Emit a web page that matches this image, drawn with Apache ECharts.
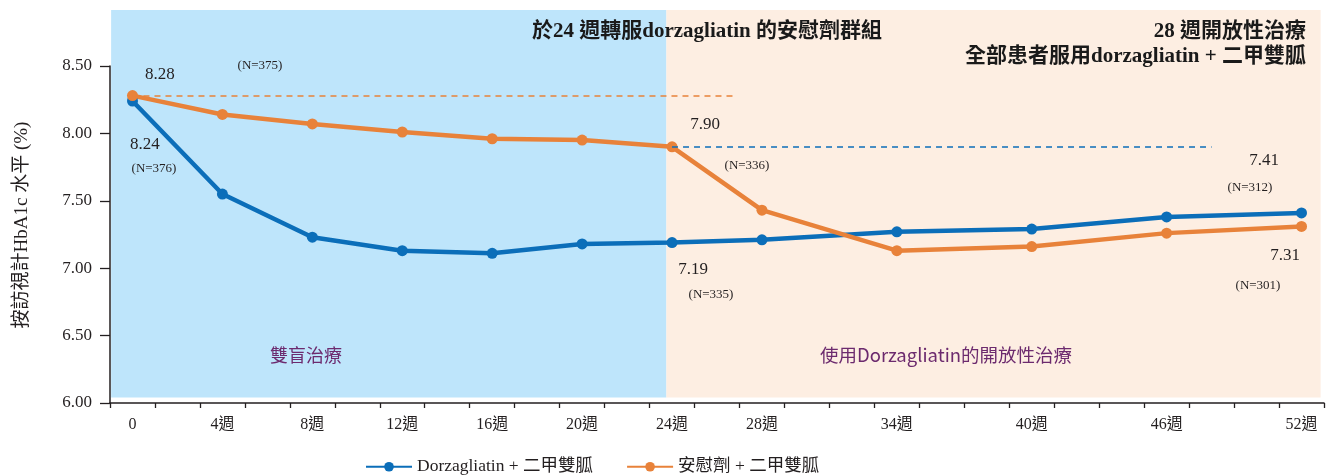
<!DOCTYPE html>
<html>
<head>
<meta charset="utf-8">
<script src="https://cdn.jsdelivr.net/npm/echarts@6/dist/echarts.min.js"></script>
<style>
html,body{margin:0;padding:0;background:#fff;}
#chart{width:1333px;height:476px;}
</style>
</head>
<body>
<div id="chart"></div>
<script>
// ---- data ----
const weeks = [0, 4, 8, 12, 16, 20, 24, 28, 34, 40, 46, 52];
const dorzValues = [8.24, 7.55, 7.23, 7.13, 7.11, 7.18, 7.19, 7.21, 7.27, 7.29, 7.38, 7.41];
const placeboValues = [8.28, 8.14, 8.07, 8.01, 7.96, 7.95, 7.90, 7.43, 7.13, 7.16, 7.26, 7.31];
const xLabelValues = [0, 4, 8, 12, 16, 20, 24, 28, 34, 40, 46, 52];
const yTickValues = [6.0, 6.5, 7.0, 7.5, 8.0, 8.5];
const seriesNames = ['Dorzagliatin + 二甲雙胍', '安慰劑 + 二甲雙胍'];
const nLabels = ['(N=375)', '(N=376)', '(N=336)', '(N=335)', '(N=312)', '(N=301)'];
const phaseLabels = ['雙盲治療', '使用Dorzagliatin的開放性治療'];
const titleLeft = '於24 週轉服dorzagliatin 的安慰劑群組';
const titleRight1 = '28 週開放性治療';
const titleRight2 = '全部患者服用dorzagliatin + 二甲雙胍';
const yName = '按訪視計HbA1c 水平 (%)';
// reference levels (dashed lines)
const placeboBaseline = 8.28;
const placeboWeek24 = 7.90;

// ---- styling ----
const BLUE = '#0B6EB9';
const ORANGE = '#E8823A';
const INK = '#231F20';
const SERIF = "'Liberation Serif', 'Noto Sans CJK TC', serif";
const SANS = "'Noto Sans CJK TC', 'Noto Sans', sans-serif";
const PURPLE = '#6C2A6E';

const dorzLabelOffsets = {0: [12.5, 43.7], 6: [21, 27.4], 11: [-37.5, -52]};
const placeboLabelOffsets = {0: [27.5, -20.7], 6: [33, -22], 11: [-16.5, 29.6]};

function buildData(vals, offsets) {
  return weeks.map((w, i) => {
    const item = {value: [w, vals[i]]};
    if (offsets[i]) {
      item.label = {
        show: true, position: 'inside', offset: offsets[i],
        formatter: p => p.value[1].toFixed(2),
        color: INK, fontFamily: SERIF, fontSize: 17
      };
    }
    return item;
  });
}

const chart = echarts.init(document.getElementById('chart'), null, {renderer: 'canvas'});

const lineCommon = {
  type: 'line',
  xAxisIndex: 0, yAxisIndex: 0,
  symbol: 'circle', symbolSize: 11,
  lineStyle: {width: 4.5},
  label: {show: false},
  emphasis: {disabled: true},
  animation: false
};

const option = {
  backgroundColor: '#ffffff',
  animation: false,
  grid: [
    {left: 110, right: 9, top: 10, bottom: 73},
    {left: 110, right: 9, top: 66, bottom: 73}
  ],
  xAxis: [
    {
      type: 'value', gridIndex: 0, min: -1, max: 53, interval: 2,
      axisLine: {show: true, onZero: false, lineStyle: {color: INK, width: 1.5}},
      axisTick: {show: true, length: 5, lineStyle: {color: INK, width: 1.3}},
      axisLabel: {
        customValues: xLabelValues, margin: 14,
        formatter: v => (v === 0 ? '0' : v + '週'),
        color: INK, fontFamily: SERIF, fontSize: 16
      },
      splitLine: {show: false}
    },
    {type: 'value', gridIndex: 1, min: -1, max: 53, show: false}
  ],
  yAxis: [
    {type: 'value', gridIndex: 0, min: 6, max: 8.915, show: false},
    {
      type: 'value', gridIndex: 1, min: 6, max: 8.5, interval: 0.5, z: 5,
      axisLine: {show: true, onZero: false, lineStyle: {color: INK, width: 1.5}},
      axisTick: {show: true, length: 10, lineStyle: {color: INK, width: 1.3}, customValues: yTickValues},
      axisLabel: {
        customValues: yTickValues, margin: 18,
        formatter: v => v.toFixed(2),
        color: INK, fontFamily: SERIF, fontSize: 17
      },
      splitLine: {show: false}
    }
  ],
  legend: {
    left: 365, top: 458, padding: 0,
    itemWidth: 46, itemHeight: 12, itemGap: 33,
    textStyle: {color: INK, fontFamily: SERIF, fontSize: 17.5},
    data: seriesNames
  },
  series: [
    {
      type: 'line', xAxisIndex: 0, yAxisIndex: 0, data: [], silent: true,
      markArea: {
        silent: true,
        label: {show: false},
        data: [
          [{coord: [-0.95, 6.04], itemStyle: {color: '#BEE5FB'}}, {coord: [23.75, 8.915]}],
          [{coord: [23.75, 6.04], itemStyle: {color: '#FDEEE2'}}, {coord: [52.85, 8.915]}]
        ]
      }
    },
    Object.assign({}, lineCommon, {
      name: seriesNames[0],
      color: BLUE,
      itemStyle: {color: BLUE},
      data: buildData(dorzValues, dorzLabelOffsets),
      markLine: {
        silent: true, symbol: 'none', label: {show: false},
        lineStyle: {color: BLUE, type: [6, 5], width: 1.5},
        data: [[{coord: [24, placeboWeek24]}, {coord: [48, placeboWeek24]}]]
      }
    }),
    Object.assign({}, lineCommon, {
      name: seriesNames[1],
      color: ORANGE,
      itemStyle: {color: ORANGE},
      data: buildData(placeboValues, placeboLabelOffsets),
      markLine: {
        silent: true, symbol: 'none', label: {show: false},
        lineStyle: {color: ORANGE, type: [6, 5], width: 1.5},
        data: [[{coord: [0, placeboBaseline]}, {coord: [26.85, placeboBaseline]}]]
      }
    })
  ],
  graphic: [
    {type: 'text', x: 22, y: 225, rotation: Math.PI / 2, silent: true,
     style: {text: yName, font: '19px ' + SERIF, fill: INK, textAlign: 'center', textVerticalAlign: 'middle'}},
    {type: 'text', x: 882, y: 32, silent: true, z: 10,
     style: {text: titleLeft, font: 'bold 21px ' + SERIF, fill: '#1a1a1a', textAlign: 'right', textVerticalAlign: 'middle'}},
    {type: 'text', x: 1306, y: 32, silent: true, z: 10,
     style: {text: titleRight1, font: 'bold 21px ' + SERIF, fill: '#1a1a1a', textAlign: 'right', textVerticalAlign: 'middle'}},
    {type: 'text', x: 1306, y: 57, silent: true, z: 10,
     style: {text: titleRight2, font: 'bold 21px ' + SERIF, fill: '#1a1a1a', textAlign: 'right', textVerticalAlign: 'middle'}},
    {type: 'text', x: 306, y: 355, silent: true, z: 10,
     style: {text: phaseLabels[0], font: '18px ' + SANS, fill: PURPLE, textAlign: 'center', textVerticalAlign: 'middle'}},
    {type: 'text', x: 946, y: 355, silent: true, z: 10,
     style: {text: phaseLabels[1], font: '18.5px ' + SANS, fill: PURPLE, textAlign: 'center', textVerticalAlign: 'middle'}},
    {type: 'text', x: 260, y: 66, silent: true, z: 10,
     style: {text: nLabels[0], font: '13px ' + SERIF, fill: INK, textAlign: 'center', textVerticalAlign: 'middle'}},
    {type: 'text', x: 154, y: 169, silent: true, z: 10,
     style: {text: nLabels[1], font: '13px ' + SERIF, fill: INK, textAlign: 'center', textVerticalAlign: 'middle'}},
    {type: 'text', x: 747, y: 166, silent: true, z: 10,
     style: {text: nLabels[2], font: '13px ' + SERIF, fill: INK, textAlign: 'center', textVerticalAlign: 'middle'}},
    {type: 'text', x: 711, y: 295, silent: true, z: 10,
     style: {text: nLabels[3], font: '13px ' + SERIF, fill: INK, textAlign: 'center', textVerticalAlign: 'middle'}},
    {type: 'text', x: 1250, y: 188, silent: true, z: 10,
     style: {text: nLabels[4], font: '13px ' + SERIF, fill: INK, textAlign: 'center', textVerticalAlign: 'middle'}},
    {type: 'text', x: 1258, y: 286, silent: true, z: 10,
     style: {text: nLabels[5], font: '13px ' + SERIF, fill: INK, textAlign: 'center', textVerticalAlign: 'middle'}}
  ]
};

chart.setOption(option);
</script>
</body>
</html>
